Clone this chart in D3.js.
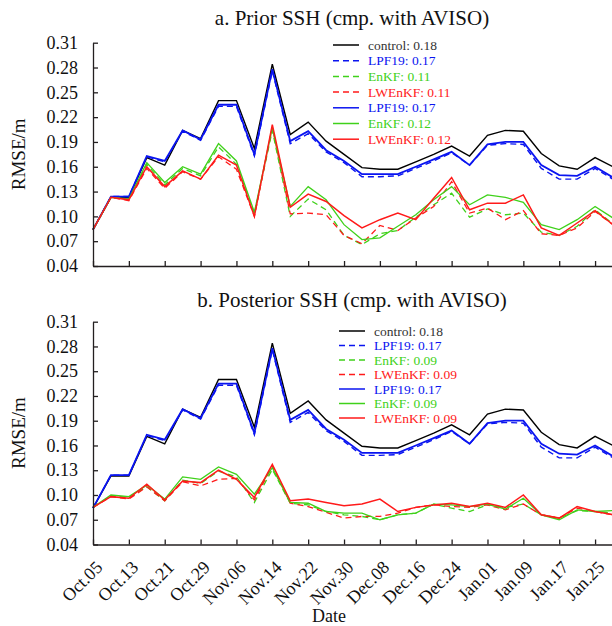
<!DOCTYPE html>
<html>
<head>
<meta charset="utf-8">
<script src="https://cdn.jsdelivr.net/npm/d3@7"></script>
<style>
  body { margin: 0; background: #fff; }
  svg { display: block; }
  svg text { font-family: "Liberation Serif", "DejaVu Serif", serif; }
</style>
</head>
<body>
<div id="svg_container"></div>
<script>
const W = 612;
const H = 626;
const FONT = '"Liberation Serif", "DejaVu Serif", serif';

// 4-day samples, Oct.05 -> Jan.29
const dates = ['2017-10-05','2017-10-09','2017-10-13','2017-10-17','2017-10-21','2017-10-25','2017-10-29',
  '2017-11-02','2017-11-06','2017-11-10','2017-11-14','2017-11-18','2017-11-22','2017-11-26','2017-11-30',
  '2017-12-04','2017-12-08','2017-12-12','2017-12-16','2017-12-20','2017-12-24','2017-12-28',
  '2018-01-01','2018-01-05','2018-01-09','2018-01-13','2018-01-17','2018-01-21','2018-01-25','2018-01-29'];

const tickDates = ['2017-10-05','2017-10-13','2017-10-21','2017-10-29','2017-11-06','2017-11-14','2017-11-22',
  '2017-11-30','2017-12-08','2017-12-16','2017-12-24','2018-01-01','2018-01-09','2018-01-17','2018-01-25'];
const yTicks = [0.04, 0.07, 0.10, 0.13, 0.16, 0.19, 0.22, 0.25, 0.28, 0.31];

// same for both panels
const control = [0.084,0.123,0.123,0.171,0.162,0.204,0.194,0.240,0.240,0.182,0.284,0.199,0.214,0.191,0.175,
  0.159,0.157,0.157,0.166,0.175,0.185,0.173,0.198,0.204,0.203,0.176,0.161,0.157,0.171,0.160];
const lpfSolid = [0.084,0.124,0.124,0.173,0.167,0.204,0.193,0.235,0.235,0.175,0.278,0.191,0.203,0.180,0.167,
  0.151,0.151,0.151,0.160,0.169,0.178,0.162,0.187,0.190,0.190,0.162,0.150,0.149,0.160,0.147];
const lpfDashed = [0.084,0.124,0.124,0.172,0.166,0.203,0.192,0.233,0.233,0.173,0.276,0.188,0.200,0.178,0.165,
  0.148,0.148,0.149,0.158,0.167,0.177,0.162,0.186,0.188,0.187,0.158,0.145,0.145,0.158,0.145];

// a. prior
const priorEnkfSolid = [0.084,0.123,0.121,0.165,0.141,0.160,0.151,0.188,0.167,0.105,0.207,0.112,0.136,0.120,0.090,
  0.072,0.074,0.088,0.102,0.120,0.136,0.114,0.126,0.123,0.117,0.090,0.084,0.096,0.112,0.098];
const priorEnkfDashed = [0.084,0.123,0.121,0.163,0.138,0.158,0.149,0.184,0.163,0.103,0.204,0.100,0.121,0.108,0.077,
  0.066,0.079,0.083,0.099,0.114,0.128,0.099,0.109,0.102,0.104,0.081,0.077,0.088,0.108,0.091];
const priorLwSolid = [0.084,0.123,0.120,0.160,0.136,0.155,0.145,0.174,0.162,0.100,0.211,0.111,0.127,0.118,0.101,
  0.086,0.096,0.104,0.096,0.122,0.147,0.108,0.116,0.116,0.126,0.086,0.077,0.092,0.107,0.090];
const priorLwDashed = [0.084,0.123,0.119,0.158,0.134,0.154,0.145,0.172,0.157,0.100,0.208,0.103,0.104,0.102,0.077,
  0.067,0.089,0.083,0.098,0.112,0.142,0.104,0.110,0.096,0.107,0.079,0.077,0.086,0.106,0.090];

// b. posterior
const postEnkfSolid = [0.085,0.100,0.098,0.112,0.095,0.122,0.119,0.134,0.125,0.101,0.133,0.091,0.090,0.080,0.078,
  0.078,0.070,0.076,0.078,0.089,0.088,0.086,0.089,0.083,0.096,0.076,0.070,0.082,0.080,0.081];
const postEnkfDashed = [0.085,0.099,0.097,0.110,0.093,0.118,0.114,0.129,0.122,0.091,0.131,0.090,0.088,0.080,0.076,
  0.074,0.070,0.076,0.078,0.089,0.084,0.080,0.088,0.085,0.089,0.076,0.072,0.081,0.080,0.078];
const postLwSolid = [0.085,0.098,0.096,0.113,0.094,0.117,0.115,0.130,0.119,0.097,0.137,0.093,0.095,0.091,0.087,
  0.089,0.095,0.080,0.085,0.088,0.090,0.086,0.090,0.085,0.100,0.076,0.072,0.086,0.080,0.076];
const postLwDashed = [0.085,0.098,0.095,0.110,0.093,0.116,0.111,0.119,0.120,0.094,0.135,0.090,0.086,0.079,0.072,
  0.074,0.074,0.078,0.085,0.088,0.086,0.085,0.088,0.082,0.089,0.076,0.072,0.084,0.080,0.076];

const priorLegend = ['control: 0.18','LPF19: 0.17','EnKF: 0.11','LWEnKF: 0.11','LPF19: 0.17','EnKF: 0.12','LWEnKF: 0.12'];
const postLegend  = ['control: 0.18','LPF19: 0.17','EnKF: 0.09','LWEnKF: 0.09','LPF19: 0.17','EnKF: 0.09','LWEnKF: 0.09'];

const BLACK = '#000000', BLUE = '#0a14f0', GREEN = '#3fd11a', RED = '#ff1a1a';
const axisColor = '#231f20';
const parse = d3.timeParse('%Y-%m-%d');

const svg = d3.select('#svg_container').append('svg')
  .attr('width', W).attr('height', H)
  .attr('font-family', FONT);

const x = d3.scaleTime()
  .domain([parse(dates[0]), parse(dates[dates.length - 1])])
  .range([93, 613]);

function drawPanel(cfg) {
  const y = d3.scaleLinear().domain([0.04, 0.31]).range([cfg.bottom, cfg.top]);

  svg.append('text')
    .attr('x', 352).attr('y', cfg.titleY)
    .attr('text-anchor', 'middle').attr('font-size', 21).attr('fill', '#111')
    .attr('font-family', FONT)
    .text(cfg.title);

  svg.append('text')
    .attr('transform', `translate(25, ${(cfg.top + cfg.bottom) / 2}) rotate(-90)`)
    .attr('text-anchor', 'middle').attr('font-size', 19).attr('fill', '#111')
    .attr('font-family', FONT)
    .text('RMSE/m');

  const series = [
    {v: control, c: BLACK, dash: null, w: 1.4},
    {v: lpfDashed, c: BLUE, dash: '6,4', w: 1.4},
    {v: cfg.enkfDashed, c: GREEN, dash: '6,4', w: 1.3},
    {v: cfg.lwDashed, c: RED, dash: '6,4', w: 1.3},
    {v: lpfSolid, c: BLUE, dash: null, w: 1.8},
    {v: cfg.enkfSolid, c: GREEN, dash: null, w: 1.3},
    {v: cfg.lwSolid, c: RED, dash: null, w: 1.5}
  ];

  const line = d3.line()
    .x((d, i) => x(parse(dates[i])))
    .y(d => y(d));

  svg.append('g').selectAll('path')
    .data(series)
    .enter()
    .append('path')
    .attr('d', s => line(s.v))
    .attr('fill', 'none')
    .attr('stroke', s => s.c)
    .attr('stroke-width', s => s.w)
    .attr('stroke-dasharray', s => s.dash);

  // axes
  const yAxis = svg.append('g')
    .attr('transform', 'translate(93, 0)')
    .call(d3.axisLeft(y).tickValues(yTicks).tickFormat(d3.format('.2f'))
      .tickSize(-5).tickSizeOuter(0).tickPadding(15));
  yAxis.attr('font-family', FONT);
  yAxis.selectAll('text').attr('font-size', 18).attr('fill', '#111');

  const xAxis = svg.append('g')
    .attr('transform', `translate(0, ${cfg.bottom})`)
    .call(d3.axisBottom(x).tickValues(tickDates.map(parse)).tickFormat(d3.timeFormat('%b.%d'))
      .tickSize(-5).tickSizeOuter(0));
  xAxis.attr('font-family', FONT);
  if (cfg.labels) {
    xAxis.selectAll('text')
      .attr('y', null).attr('dy', null)
      .attr('transform', 'translate(10, 24) rotate(-45)')
      .attr('text-anchor', 'end')
      .attr('font-size', 18).attr('fill', '#111');
  } else {
    xAxis.selectAll('text').remove();
  }
  svg.selectAll('.domain, .tick line').attr('stroke', axisColor).attr('stroke-width', 1.3);

  // legend
  const lg = svg.append('g').attr('font-family', FONT);
  const legendColors = [BLACK, BLUE, GREEN, RED, BLUE, GREEN, RED];
  const textColors = ['#333', BLUE, GREEN, RED, BLUE, GREEN, RED];
  cfg.legend.forEach((t, i) => {
    const yy = cfg.legY + i * cfg.legStep;
    lg.append('line')
      .attr('x1', cfg.legX).attr('x2', cfg.legX + 26)
      .attr('y1', yy).attr('y2', yy)
      .attr('stroke', legendColors[i]).attr('stroke-width', 1.5)
      .attr('stroke-dasharray', (i >= 1 && i <= 3) ? '6,4' : null);
    lg.append('text')
      .attr('x', cfg.legX + 35).attr('y', yy + 4.5)
      .attr('font-size', 13.5).attr('fill', textColors[i])
      .text(t);
  });
}

drawPanel({
  title: 'a. Prior SSH (cmp. with AVISO)', titleY: 25, top: 42.7, bottom: 266,
  enkfSolid: priorEnkfSolid, enkfDashed: priorEnkfDashed, lwSolid: priorLwSolid, lwDashed: priorLwDashed,
  legend: priorLegend, legX: 333, legY: 45, legStep: 15.7, labels: false
});

drawPanel({
  title: 'b. Posterior SSH (cmp. with AVISO)', titleY: 307, top: 321.7, bottom: 544.5,
  enkfSolid: postEnkfSolid, enkfDashed: postEnkfDashed, lwSolid: postLwSolid, lwDashed: postLwDashed,
  legend: postLegend, legX: 339, legY: 331, legStep: 14.5, labels: true
});

svg.append('text')
  .attr('x', 329).attr('y', 622)
  .attr('text-anchor', 'middle').attr('font-size', 18).attr('fill', '#111')
  .attr('font-family', FONT)
  .text('Date');
</script>
</body>
</html>
